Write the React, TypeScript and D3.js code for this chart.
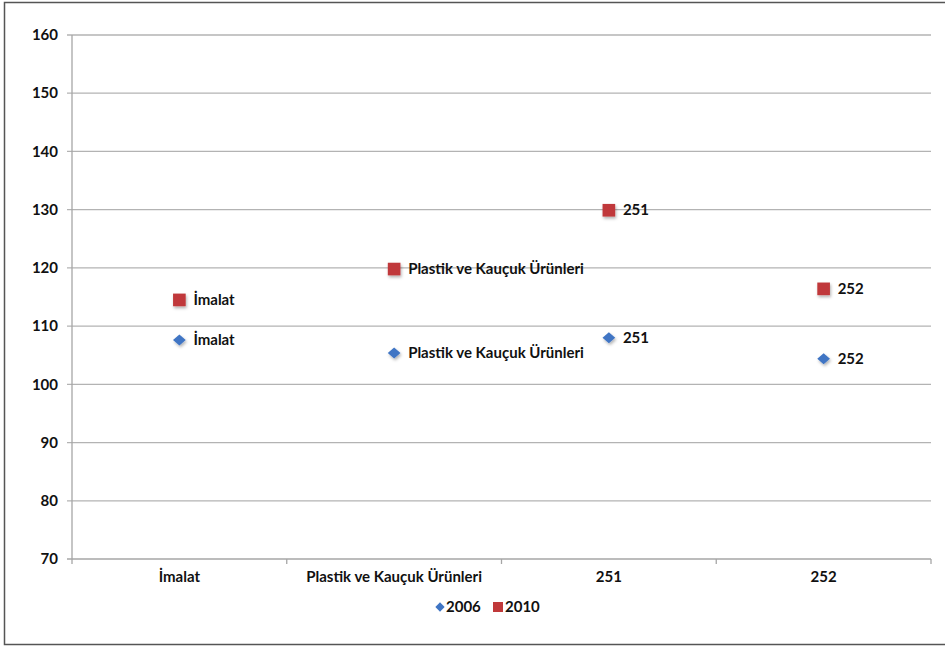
import React from "react";
import * as d3 from "d3";

const categories = ["İmalat", "Plastik ve Kauçuk Ürünleri", "251", "252"];
const series2006 = [107.6, 105.4, 108.0, 104.4];
const series2010 = [114.5, 119.8, 129.9, 116.4];
const yTicks = [70, 80, 90, 100, 110, 120, 130, 140, 150, 160];
const seriesNames = ["2006", "2010"];

const W = 945;
const H = 646;
const left = 72;
const right = 931;
const top = 35;
const bottom = 559;
const FONT = "Lato, 'Open Sans', sans-serif";
const FS = 15;

export default function App() {
  const x = d3.scaleBand<string>().domain(categories).range([left, right]);
  const y = d3.scaleLinear().domain([70, 160]).range([bottom, top]);
  const diamond = d3.symbol().type(d3.symbolDiamond2).size(85)() as string;
  const square = d3.symbol().type(d3.symbolSquare).size(160)() as string;
  const diamondSmall = d3.symbol().type(d3.symbolDiamond2).size(55)() as string;
  const squareSmall = d3.symbol().type(d3.symbolSquare).size(100)() as string;
  const cx = (c: string) => (x(c) as number) + x.bandwidth() / 2;
  const ticksX = [...categories.map((c) => x(c) as number), right];
  const blue = "#3f75c4";
  const red = "#c0393a";

  return (
    <svg
      width={W}
      height={H}
      style={{ position: "absolute", left: 0, top: 0, background: "#fff" }}
      fontFamily={FONT}
    >
      <defs>
        <filter id="sh" x="-50%" y="-50%" width="200%" height="200%">
          <feDropShadow dx="1" dy="2" stdDeviation="1.5" floodColor="#000" floodOpacity="0.3" />
        </filter>
      </defs>
      <rect x={4.5} y={2.5} width={W + 10} height={642} fill="#fff" stroke="#555" strokeWidth={1.5} />
      {yTicks.map((t) => (
        <g key={t}>
          <line x1={left - 5} x2={right} y1={y(t)} y2={y(t)} stroke={t === 70 ? "#a6a6a6" : "#b3b3b3"} strokeWidth={1.3} />
          <text x={left - 14} y={y(t)} dy="0.35em" textAnchor="end" fontSize={FS} fontWeight={700} fill="#111">
            {t}
          </text>
        </g>
      ))}
      <line x1={left} x2={left} y1={top} y2={bottom} stroke="#a6a6a6" strokeWidth={1.3} />
      {ticksX.map((tx, i) => (
        <line key={i} x1={tx} x2={tx} y1={bottom} y2={bottom + 5} stroke="#a6a6a6" strokeWidth={1.3} />
      ))}
      {categories.map((c) => (
        <text key={c} x={cx(c)} y={577} dy="0.35em" textAnchor="middle" fontSize={FS} fontWeight={700} fill="#111">
          {c}
        </text>
      ))}
      {categories.map((c, i) => (
        <g key={"a" + c}>
          <path d={diamond} transform={`translate(${cx(c)},${y(series2006[i])}) scale(1.1,0.95)`} fill={blue} filter="url(#sh)" />
          <text x={cx(c) + 14} y={y(series2006[i])} dy="0.35em" fontSize={FS} fontWeight={700} fill="#111">
            {c}
          </text>
        </g>
      ))}
      {categories.map((c, i) => (
        <g key={"b" + c}>
          <path d={square} transform={`translate(${cx(c)},${y(series2010[i])})`} fill={red} filter="url(#sh)" />
          <text x={cx(c) + 14} y={y(series2010[i])} dy="0.35em" fontSize={FS} fontWeight={700} fill="#111">
            {c}
          </text>
        </g>
      ))}
      <g>
        <path d={diamondSmall} transform="translate(440,607)" fill={blue} />
        <text x={446} y={607} dy="0.35em" fontSize={FS} fontWeight={700} fill="#111">
          {seriesNames[0]}
        </text>
        <path d={squareSmall} transform="translate(498,607)" fill={red} />
        <text x={505} y={607} dy="0.35em" fontSize={FS} fontWeight={700} fill="#111">
          {seriesNames[1]}
        </text>
      </g>
    </svg>
  );
}
